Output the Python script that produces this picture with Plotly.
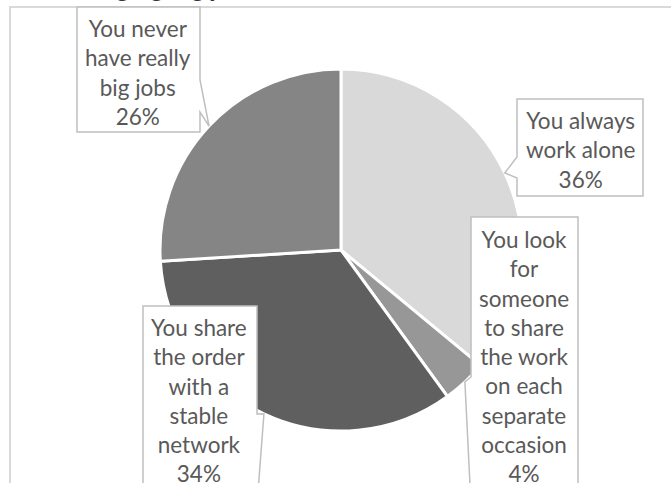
import plotly.graph_objects as go

# --- data ---------------------------------------------------------------
labels = [
    "You always<br>work alone",
    "You look<br>for<br>someone<br>to share<br>the work<br>on each<br>separate<br>occasion",
    "You share<br>the order<br>with a<br>stable<br>network",
    "You never<br>have really<br>big jobs",
]
values = [36, 4, 34, 26]
colors = ["#d9d9d9", "#979797", "#5f5f5f", "#858585"]
title_text = "Managing big jobs"

# --- layout constants (pixels) ------------------------------------------
W, H = 671, 483
CX, CY, R = 341, 250, 181          # pie centre and radius
TEXT_COLOR = "#595959"
BOX_COLOR = "#bfbfbf"
FONT = "Lato"

# callout boxes: (x0, y0, x1, y1), wedge side, wedge base span, text centre
callouts = [
    dict(box=(517, 99, 643, 196), side="left", base=(157, 178), text=(580, 150)),
    dict(box=(471, 217, 578, 520), side="left", base=(377, 505), text=(524, 356)),
    dict(box=(143, 306, 257, 520), side="right", base=(414, 505), text=(199, 400)),
    dict(box=(77, 7, 200, 132), side="right", base=(80, 112), text=(138, 72)),
]


def px(x):
    return x / W


def py(y):
    return 1 - y / H


def slice_tips():
    """Point on the rim at the middle angle of each slice (clockwise from 12)."""
    import math
    total = sum(values)
    tips, acc = [], 0.0
    for v in values:
        mid = (acc + v / 2) / total * 2 * math.pi
        tips.append((CX + R * math.sin(mid), CY - R * math.cos(mid)))
        acc += v
    return tips


def callout_path(box, side, base, tip):
    x0, y0, x1, y1 = box
    b0, b1 = base
    tx, ty = tip
    if side == "left":
        pts = [(x0, y0), (x1, y0), (x1, y1), (x0, y1), (x0, b1), (tx, ty), (x0, b0)]
    else:
        pts = [(x0, y0), (x1, y0), (x1, b0), (tx, ty), (x1, b1), (x1, y1), (x0, y1)]
    d = "M " + " L ".join(f"{px(x):.5f},{py(y):.5f}" for x, y in pts) + " Z"
    return d


fig = go.Figure(
    go.Pie(
        labels=[l.replace("<br>", " ") for l in labels],
        values=values,
        sort=False,
        direction="clockwise",
        rotation=0,
        marker=dict(colors=colors, line=dict(color="white", width=3)),
        textinfo="none",
        hoverinfo="label+percent",
        showlegend=False,
        domain=dict(x=[px(CX - R), px(CX + R)], y=[py(CY + R), py(CY - R)]),
    )
)

shapes = [
    # chart frame
    dict(type="line", xref="paper", yref="paper", x0=px(9), x1=px(W + 5),
         y0=py(7), y1=py(7), line=dict(color="#d9d9d9", width=2), layer="below"),
    dict(type="line", xref="paper", yref="paper", x0=px(10), x1=px(10),
         y0=py(7), y1=py(H + 5), line=dict(color="#d9d9d9", width=2), layer="below"),
]
annotations = []
for c, tip, lab, v in zip(callouts, slice_tips(), labels, values):
    shapes.append(dict(
        type="path", xref="paper", yref="paper",
        path=callout_path(c["box"], c["side"], c["base"], tip),
        fillcolor="white", line=dict(color=BOX_COLOR, width=1.5), layer="above",
    ))
    tx, ty = c["text"]
    annotations.append(dict(
        x=px(tx), y=py(ty), xref="paper", yref="paper",
        text=f"{lab}<br>{v}%", showarrow=False, align="center",
        xanchor="center", yanchor="middle",
        font=dict(family=FONT, size=22.5, color=TEXT_COLOR),
    ))

annotations.append(dict(
    x=px(50), y=py(4), xref="paper", yref="paper", text=title_text,
    showarrow=False, xanchor="left", yanchor="bottom",
    font=dict(family=FONT, size=26, color="#333333"),
))

fig.update_layout(
    width=W, height=H,
    margin=dict(l=0, r=0, t=0, b=0),
    paper_bgcolor="white", plot_bgcolor="white",
    shapes=shapes, annotations=annotations,
)

fig.write_html("out.html")
